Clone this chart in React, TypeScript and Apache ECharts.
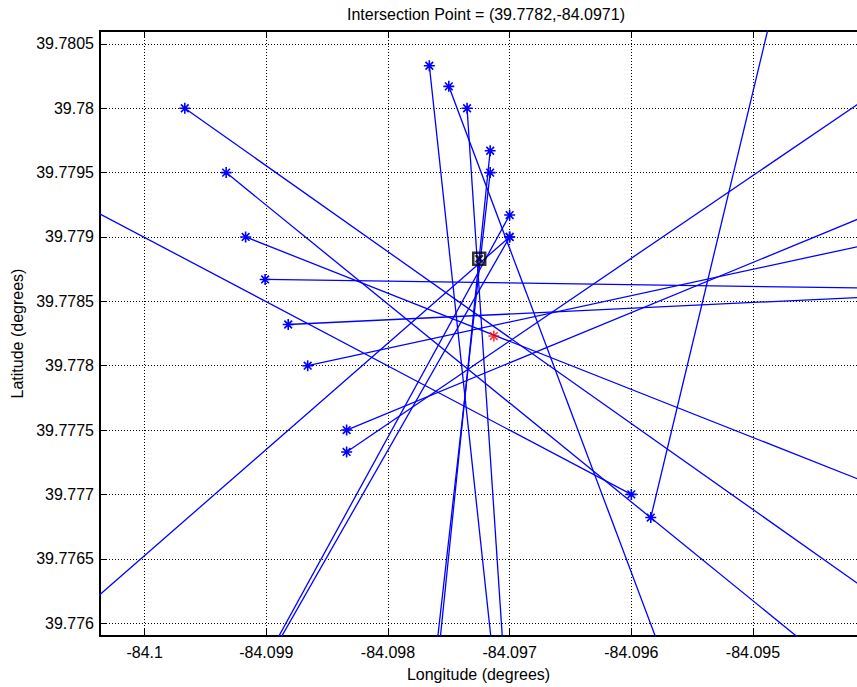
import { useEffect, useRef } from "react";
import * as echarts from "echarts";

// Bearing lines: each starts at a station (drawn with a star) and runs to a far end.
const stationLon = [
  -84.09967, -84.09933, -84.09917, -84.09901, -84.09882, -84.09866, -84.09834, -84.09834, -84.09766,
  -84.0975, -84.09735, -84.09716, -84.09716, -84.097, -84.097, -84.097, -84.096, -84.09584,
];
const stationLat = [
  39.78, 39.7795, 39.779, 39.77867, 39.77832, 39.778, 39.7775, 39.77733, 39.78033,
  39.78017, 39.78, 39.77967, 39.7795, 39.77917, 39.779, 39.779, 39.777, 39.77682,
];
const farLon = [
  -84.093835, -84.094207, -84.093835, -84.093835, -84.093835, -84.093835, -84.093835, -84.093835, -84.097117,
  -84.09567, -84.097037, -84.097605, -84.09763, -84.099091, -84.099075, -84.100694, -84.100694, -84.0948,
];
const farLat = [
  39.776105, 39.775564, 39.777007, 39.7786, 39.778543, 39.778987, 39.779256, 39.780226, 39.775564,
  39.775564, 39.775564, 39.775564, 39.775564, 39.775564, 39.775564, 39.775953, 39.779342, 39.780917,
];

// Estimated intersection (red star) and reference position (black square)
const intersection = [-84.09713, 39.77823];
const referencePoint = [-84.09725, 39.77883];

const lonTicks = [-84.1, -84.099, -84.098, -84.097, -84.096, -84.095];
const latTicks = [39.776, 39.7765, 39.777, 39.7775, 39.778, 39.7785, 39.779, 39.7795, 39.78, 39.7805];

const lonRange = [-84.100367, -84.094145];
const latRange = [39.7759, 39.7806];

const FONT = "'Liberation Sans', Arial, Helvetica, sans-serif";
const STAR = "path://M0,5L10,5M5,0L5,10M1.5,1.5L8.5,8.5M8.5,1.5L1.5,8.5";
const BOX_X = "path://M0,0L10,0L10,10L0,10ZM2,2L8,8M8,2L2,8";

const fmt = (v: number) => String(parseFloat(Number(v).toFixed(4)));

export default function App() {
  const ref = useRef<HTMLDivElement>(null);

  useEffect(() => {
    if (!ref.current) return;
    const chart = echarts.init(ref.current, undefined, { renderer: "svg" });

    const lineSeries = stationLon.map((lon, i) => ({
      type: "line" as const,
      silent: true,
      clip: true,
      data: [
        { value: [lon, stationLat[i]], symbol: STAR, symbolSize: 11 },
        { value: [farLon[i], farLat[i]], symbol: "none" },
      ],
      lineStyle: { color: "#0000ff", width: 1.3 },
      itemStyle: { color: "#0000ff", borderColor: "#0000ff", borderWidth: 1.6 },
      emphasis: { disabled: true },
      z: 2,
    }));

    const titleText = `Intersection Point = (${intersection[1].toFixed(4)},${intersection[0].toFixed(4)})`;

    const axisText = { color: "#000", fontSize: 16, fontFamily: FONT };
    const gridLine = { show: true, lineStyle: { color: "#000", type: [1, 2], width: 1 } };

    chart.setOption({
      animation: false,
      title: {
        text: titleText,
        left: 481,
        top: 1,
        textAlign: "center",
        textStyle: { color: "#000", fontSize: 16, fontWeight: "normal", fontFamily: FONT },
      },
      grid: { left: 100, right: -5, top: 31, bottom: 50, containLabel: false },
      xAxis: [
        {
          type: "value",
          position: "bottom",
          min: lonRange[0],
          max: lonRange[1],
          axisLine: { show: true, onZero: false, lineStyle: { color: "#000", width: 2 } },
          axisTick: { show: true, inside: true, length: 7, customValues: lonTicks, lineStyle: { color: "#000", width: 1 } },
          axisLabel: { show: true, customValues: lonTicks, formatter: fmt, margin: 8, ...axisText },
          splitLine: gridLine,
          name: "Longitude (degrees)",
          nameLocation: "middle",
          nameGap: 30,
          nameTextStyle: axisText,
        },
        {
          type: "value",
          position: "top",
          min: lonRange[0],
          max: lonRange[1],
          axisLine: { show: true, onZero: false, lineStyle: { color: "#000", width: 2 } },
          axisTick: { show: true, inside: true, length: 7, customValues: lonTicks, lineStyle: { color: "#000", width: 1 } },
          axisLabel: { show: false },
          splitLine: { show: false },
        },
      ],
      yAxis: [
        {
          type: "value",
          position: "left",
          min: latRange[0],
          max: latRange[1],
          axisLine: { show: true, onZero: false, lineStyle: { color: "#000", width: 2 } },
          axisTick: { show: true, inside: true, length: 7, customValues: latTicks, lineStyle: { color: "#000", width: 1 } },
          axisLabel: { show: true, customValues: latTicks, formatter: fmt, margin: 6, ...axisText },
          splitLine: gridLine,
          name: "Latitude (degrees)",
          nameLocation: "middle",
          nameGap: 75,
          nameTextStyle: axisText,
        },
      ],
      series: [
        ...lineSeries,
        {
          type: "scatter",
          silent: true,
          data: [referencePoint],
          symbol: BOX_X,
          symbolSize: 12,
          itemStyle: { color: "rgba(0,0,0,0)", borderColor: "#000", borderWidth: 2.5 },
          z: 3,
        },
        {
          type: "scatter",
          silent: true,
          data: [intersection],
          symbol: STAR,
          symbolSize: 11,
          itemStyle: { color: "#ff0000", borderColor: "#ff0000", borderWidth: 1.6 },
          z: 3,
        },
      ],
    });

    return () => chart.dispose();
  }, []);

  return (
    <div
      ref={ref}
      style={{ position: "absolute", left: 0, top: 0, width: 857, height: 687, background: "#fff" }}
    />
  );
}
